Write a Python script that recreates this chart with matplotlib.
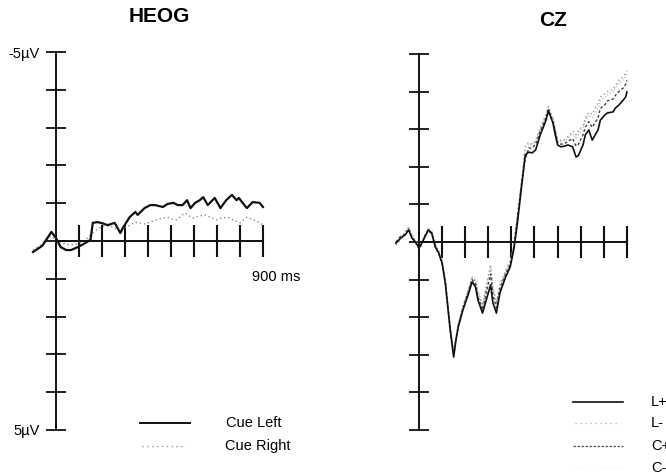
import matplotlib
matplotlib.use('Agg')
import matplotlib.pyplot as plt
from matplotlib.lines import Line2D

plt.rcParams['font.family'] = ['Liberation Sans', 'DejaVu Sans']

W, H = 666, 475

# ---------------- HEOG (cue left / cue right), ms and uV ----------------
heog_left_t = [-100, -60, -20, 0, 20, 45, 65, 95, 120, 150,
               160, 180, 195, 225, 255, 280, 290, 320, 345, 355,
               385, 410, 430, 465, 485, 510, 530, 550, 570, 585,
               605, 625, 640, 660, 690, 715, 740, 765, 785, 795,
               815, 830, 855, 885, 900]
heog_left = [0.29, 0.13, -0.24, -0.08, 0.16, 0.24, 0.24, 0.16, 0.08, -0.03,
             -0.48, -0.50, -0.48, -0.42, -0.48, -0.21, -0.34, -0.63, -0.77, -0.69,
             -0.87, -0.95, -0.95, -0.90, -0.98, -1.01, -0.95, -0.95, -1.08, -0.87,
             -1.01, -1.08, -1.16, -0.95, -1.14, -0.87, -1.08, -1.22, -1.08, -1.14,
             -0.98, -0.87, -1.03, -1.01, -0.90]

heog_right_t = [-100, -60, -25, 0, 25, 60, 95, 130, 155, 185,
                210, 235, 260, 280, 295, 315, 345, 365, 385, 410,
                445, 485, 505, 525, 560, 580, 595, 620, 650, 675,
                700, 720, 745, 770, 800, 830, 850, 870, 885, 900]
heog_right = [0.24, 0.08, -0.13, -0.03, 0.05, 0.11, 0.08, -0.03, -0.19, -0.34,
              -0.40, -0.40, -0.32, -0.24, -0.34, -0.40, -0.50, -0.48, -0.45, -0.50,
              -0.58, -0.63, -0.58, -0.56, -0.74, -0.66, -0.61, -0.66, -0.69, -0.61,
              -0.56, -0.61, -0.63, -0.56, -0.48, -0.63, -0.58, -0.53, -0.48, -0.42]

# ---------------- CZ, four conditions on a common time base ----------------
cz_t = [-100, -80, -60, -45, -30, -15, 0, 15, 25, 40,
        55, 70, 85, 100, 115, 120, 135, 150, 160, 170,
        190, 215, 230, 245, 255, 275, 295, 310, 320, 335,
        350, 375, 395, 410, 425, 445, 460, 475, 490, 505,
        525, 550, 560, 580, 590, 600, 615, 630, 645, 665,
        680, 690, 710, 720, 735, 750, 775, 785, 805, 815,
        840, 850, 865, 885, 895, 900]

cz_lplus = [0.03, -0.10, -0.19, -0.32, -0.10, 0.00, 0.16, 0.00, -0.13, -0.32,
            -0.24, 0.13, 0.29, 0.56, 1.15, 1.46, 2.34, 3.06, 2.61, 2.26,
            1.81, 1.36, 1.06, 1.20, 1.54, 1.89, 1.46, 1.14, 1.62, 1.89,
            1.36, 0.93, 0.66, 0.21, -0.45, -1.52, -2.31, -2.39, -2.37, -2.45,
            -2.85, -3.24, -3.51, -3.16, -2.85, -2.58, -2.53, -2.55, -2.58, -2.53,
            -2.26, -2.30, -2.58, -2.85, -2.98, -2.71, -2.98, -3.24, -3.38, -3.43,
            -3.46, -3.56, -3.64, -3.78, -3.86, -3.99]

cz_lminus = [0.08, -0.05, -0.25, -0.38, -0.15, -0.05, 0.10, -0.05, -0.18, -0.35,
             -0.28, 0.05, 0.22, 0.50, 1.05, 1.40, 2.25, 2.95, 2.55, 2.20,
             1.72, 1.25, 0.95, 1.05, 1.35, 1.70, 1.05, 0.60, 1.20, 1.60,
             1.15, 0.75, 0.50, 0.10, -0.65, -1.70, -2.55, -2.65, -2.60, -2.70,
             -3.05, -3.40, -3.60, -3.30, -3.00, -2.75, -2.70, -2.72, -2.80, -2.95,
             -2.85, -2.95, -3.10, -3.30, -3.45, -3.40, -3.70, -3.85, -3.95, -4.00,
             -4.05, -4.15, -4.30, -4.40, -4.50, -4.55]

cz_cplus = [0.00, -0.15, -0.20, -0.35, -0.12, 0.02, 0.18, 0.02, -0.15, -0.30,
            -0.22, 0.10, 0.30, 0.58, 1.10, 1.42, 2.30, 3.00, 2.58, 2.22,
            1.76, 1.30, 1.00, 1.12, 1.45, 1.80, 1.25, 0.85, 1.40, 1.75,
            1.25, 0.85, 0.60, 0.15, -0.60, -1.60, -2.20, -2.50, -2.50, -2.60,
            -2.95, -3.30, -3.45, -3.20, -2.95, -2.65, -2.60, -2.62, -2.68, -2.75,
            -2.55, -2.60, -2.85, -3.05, -3.20, -3.05, -3.30, -3.55, -3.65, -3.75,
            -3.80, -3.90, -4.00, -4.10, -4.20, -4.30]

cz_cminus = [0.05, -0.12, -0.28, -0.40, -0.18, -0.02, 0.12, -0.02, -0.20, -0.38,
             -0.30, 0.02, 0.25, 0.52, 1.00, 1.38, 2.20, 2.90, 2.50, 2.18,
             1.70, 1.22, 0.92, 1.00, 1.30, 1.65, 1.10, 0.70, 1.25, 1.65,
             1.20, 0.80, 0.52, 0.12, -0.62, -1.65, -2.45, -2.60, -2.58, -2.68,
             -3.00, -3.35, -3.55, -3.28, -2.98, -2.72, -2.66, -2.70, -2.76, -2.88,
             -2.75, -2.85, -3.00, -3.22, -3.38, -3.30, -3.55, -3.75, -3.85, -3.92,
             -3.98, -4.08, -4.20, -4.32, -4.42, -4.48]

x_ticks = [100, 200, 300, 400, 500, 600, 700, 800, 900]
y_ticks = [-5, -4, -3, -2, -1, 0, 1, 2, 3, 4, 5]

fig = plt.figure(figsize=(W / 100, H / 100), dpi=100)


def px_axes(x0, y0, x1, y1):
    return fig.add_axes([x0 / W, 1 - y1 / H, (x1 - x0) / W, (y1 - y0) / H])


def erp_axes(ax):
    ax.set_xlim(-110, 910)
    ax.set_ylim(5.3, -5.3)  # negative up
    ax.patch.set_visible(False)
    for s in ['top', 'right']:
        ax.spines[s].set_visible(False)
    ax.spines['left'].set_position(('data', 0))
    ax.spines['bottom'].set_position(('data', 0))
    ax.spines['left'].set_bounds(-5, 5)
    ax.spines['bottom'].set_bounds(0, 900)
    for s in ['left', 'bottom']:
        ax.spines[s].set_linewidth(1.4)
        ax.spines[s].set_color('#111111')
    ax.set_xticks(x_ticks)
    ax.set_xticklabels([])
    ax.set_yticks(y_ticks)
    ax.tick_params(axis='x', direction='inout', length=23, width=1.5, color='#111111')
    ax.tick_params(axis='y', direction='inout', length=14.5, width=1.3, color='#111111',
                   pad=4.3, labelsize=10.5)


def legend_row(x0, x1, y, label, tx, **kw):
    fig.add_artist(Line2D([x0 / W, x1 / W], [1 - y / H, 1 - y / H],
                          transform=fig.transFigure, **kw))
    fig.text(tx / W, 1 - y / H, label, ha='left', va='center', fontsize=10.5)


# HEOG panel
ax1 = px_axes(30.7, 40.7, 265.3, 441.3)
erp_axes(ax1)
ax1.set_yticklabels(['-5µV'] + [''] * 9 + ['5µV'])
ax1.plot(heog_right_t, heog_right, color='#8a8a8a', lw=1.0, ls=(0, (1, 2)))
ax1.plot(heog_left_t, heog_left, color='#111111', lw=1.6)
ax1.text(957, 0.95, '900 ms', ha='center', va='center', fontsize=10.5)
fig.text(159 / W, 1 - 16 / H, 'HEOG', ha='center', va='center',
         fontsize=15, fontweight='bold')

legend_row(140, 190, 423, 'Cue Left', 226, color='#111111', lw=1.4)
legend_row(142, 186, 446, 'Cue Right', 225, color='#999999', lw=1.0, ls=(0, (1, 2.5)))

# CZ panel
ax2 = px_axes(393.6, 42.7, 629.2, 441.3)
erp_axes(ax2)
ax2.set_yticklabels([])
ax2.plot(cz_t, cz_cminus, color='#bbbbbb', lw=0.9, ls=(0, (1, 1.5)))
ax2.plot(cz_t, cz_lminus, color='#9a9a9a', lw=1.0, ls=(0, (1, 2)))
ax2.plot(cz_t, cz_cplus, color='#444444', lw=1.0, ls=(0, (2, 1.5)))
ax2.plot(cz_t, cz_lplus, color='#111111', lw=1.2)
fig.text(553 / W, 1 - 20 / H, 'CZ', ha='center', va='center',
         fontsize=15, fontweight='bold')

legend_row(573, 623, 402, 'L+', 651, color='#111111', lw=1.2)
legend_row(575, 618, 423, 'L-', 651, color='#aaaaaa', lw=0.9, ls=(0, (1, 3)))
legend_row(573, 623, 446, 'C+', 651, color='#555555', lw=0.9, ls=(0, (2, 1.2)))
legend_row(573, 623, 468, 'C-', 651, color='#eeeeee', lw=0.8, ls=(0, (1, 3)))

fig.savefig('out.png', dpi=100)
